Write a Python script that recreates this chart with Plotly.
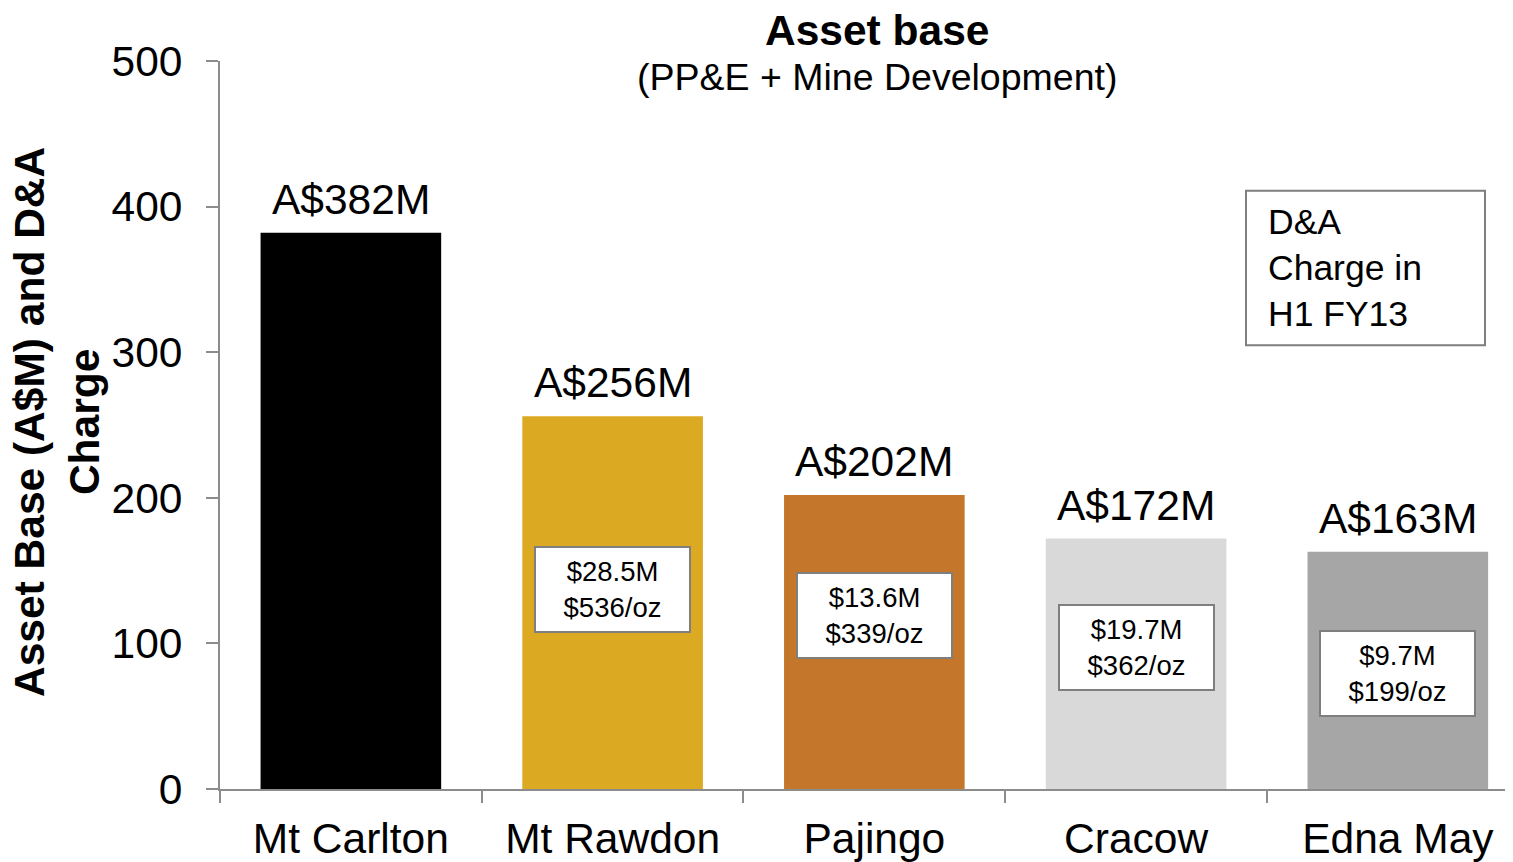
import plotly.graph_objects as go

# ---- data ----
mines = ["Mt Carlton", "Mt Rawdon", "Pajingo", "Cracow", "Edna May"]
asset_base = [382, 256, 202, 172, 163]
asset_labels = ["A$382M", "A$256M", "A$202M", "A$172M", "A$163M"]
da_charge_labels = ["", "$28.5M<br>$536/oz", "$13.6M<br>$339/oz", "$19.7M<br>$362/oz", "$9.7M<br>$199/oz"]
y_ticks = [0, 100, 200, 300, 400, 500]

# ---- style / layout ----
bar_colors = ["#000000", "#DCA922", "#C4762B", "#D9D9D9", "#A6A6A6"]
box_y = [None, 137, 119.5, 97.5, 79]  # vertical placement of D&A boxes (layout)
FONT = "Liberation Sans, Arial, sans-serif"
AXIS_GRAY = "#8C8C8C"

# plot area in page pixels (page has 8px body margin)
PX0, PX1, PY0, PY1 = 220, 1513, 61, 791
PW, PH = PX1 - PX0, PY1 - PY0


def px(xp):
    return (xp - PX0) / PW


def py(yp):
    return (PY1 - yp) / PH


fig = go.Figure()
fig.add_trace(go.Bar(
    x=mines, y=asset_base,
    marker=dict(color=bar_colors, line=dict(width=0)),
    hoverinfo="skip",
))

annotations = []
for m, v, lab in zip(mines, asset_base, asset_labels):
    annotations.append(dict(
        x=m, y=v, xref="x", yref="y", text=lab, showarrow=False,
        yanchor="bottom", yshift=8, font=dict(family=FONT, size=42.5, color="#000000"),
    ))
for m, lab, yy in zip(mines, da_charge_labels, box_y):
    if not lab:
        continue
    annotations.append(dict(
        x=m, y=yy, xref="x", yref="y", text=lab, showarrow=False,
        xanchor="center", yanchor="middle",
        font=dict(family=FONT, size=27.5, color="#000000"),
        bgcolor="#FFFFFF", bordercolor="#7F7F7F", borderwidth=2, borderpad=0,
        width=153, height=83,
    ))
# legend-like box text
annotations.append(dict(
    x=px(1266), y=py(269), text="D&A<br>Charge in<br>H1 FY13", showarrow=False,
    xref="paper", yref="paper", align="left", xanchor="left", yanchor="middle",
    font=dict(family=FONT, size=35.5, color="#000000"),
))
# titles
annotations.append(dict(
    x=px(877), y=py(30), xref="paper", yref="paper",
    text="<b>Asset base</b>", showarrow=False, xanchor="center", yanchor="middle",
    font=dict(family=FONT, size=42.5, color="#000000"),
))
annotations.append(dict(
    x=px(877), y=py(77), xref="paper", yref="paper",
    text="(PP&E + Mine Development)", showarrow=False, xanchor="center", yanchor="middle",
    font=dict(family=FONT, size=37.5, color="#000000"),
))
annotations.append(dict(
    x=px(57), y=py(423), xref="paper", yref="paper",
    text="<b>Asset Base (A$M) and D&A<br>Charge</b>", showarrow=False,
    xanchor="center", yanchor="middle", textangle=-90,
    font=dict(family=FONT, size=42.5, color="#000000"),
))

shapes = [dict(
    type="rect", xref="paper", yref="paper",
    x0=px(1246), x1=px(1485), y0=py(346), y1=py(191),
    line=dict(color="#7F7F7F", width=2), fillcolor="#FFFFFF", layer="below",
)]

fig.update_layout(
    width=PX1 - 8, height=862 - 8,
    margin=dict(l=PX0 - 8, r=0, t=PY0 - 8, b=862 - 8 - (PY1 - 8)),
    paper_bgcolor="#FFFFFF", plot_bgcolor="#FFFFFF",
    bargap=0.31,
    showlegend=False,
    font=dict(family=FONT, color="#000000"),
    annotations=annotations,
    shapes=shapes,
    xaxis=dict(
        range=[-0.5, 4.44], showgrid=False, zeroline=False,
        showline=True, linecolor=AXIS_GRAY, linewidth=2,
        ticks="outside", tickson="boundaries", ticklen=12, tickcolor=AXIS_GRAY, tickwidth=2,
        tickfont=dict(family=FONT, size=42.5, color="#000000"),
        ticklabelstandoff=11,
    ),
    yaxis=dict(
        range=[0, 500], tickvals=y_ticks, showgrid=False, zeroline=False,
        showline=True, linecolor=AXIS_GRAY, linewidth=2,
        ticks="outside", ticklen=12, tickcolor=AXIS_GRAY, tickwidth=2,
        tickfont=dict(family=FONT, size=42.5, color="#000000"),
        ticklabelstandoff=15,
    ),
)

fig.write_html("out.html")
